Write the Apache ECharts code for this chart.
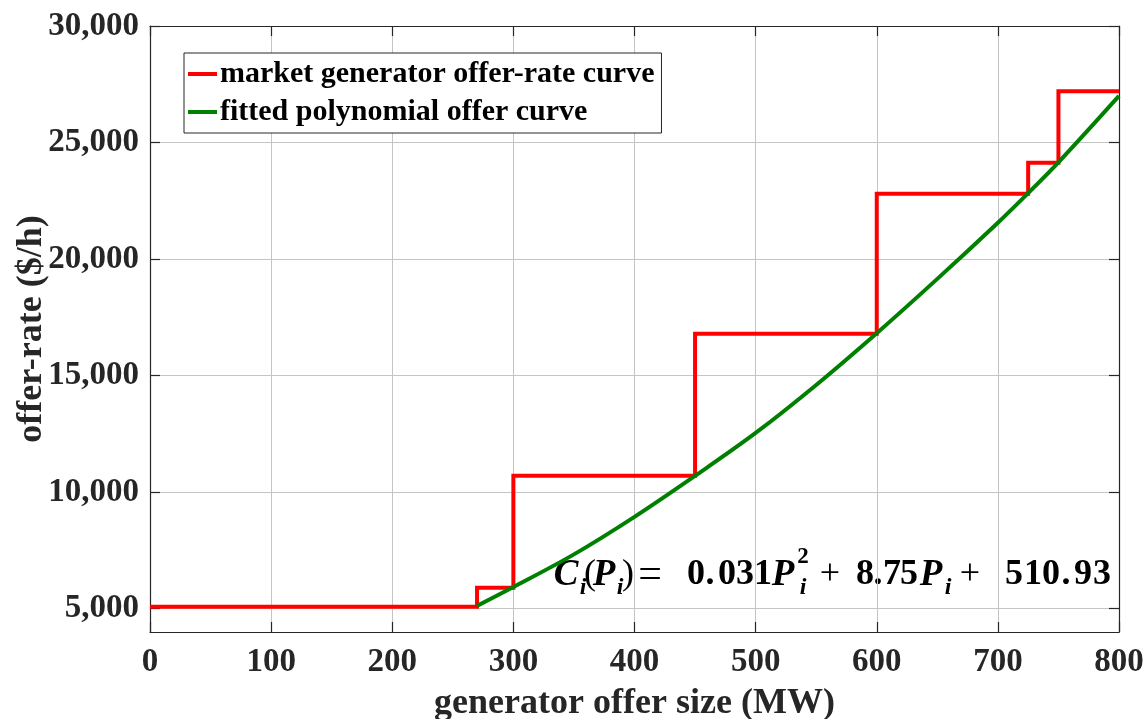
<!DOCTYPE html>
<html>
<head>
<meta charset="utf-8">
<title>Generator offer-rate curve</title>
<script src="https://cdn.jsdelivr.net/npm/echarts@6/dist/echarts.min.js"></script>
<style>
  html, body { margin: 0; padding: 0; background: #fff; }
  #chart { width: 1145px; height: 719px; }
</style>
</head>
<body>
<div id="chart"></div>
<script>
// Axis ticks
const xTicks = [0, 100, 200, 300, 400, 500, 600, 700, 800];
const yTicks = [5000, 10000, 15000, 20000, 25000, 30000];

// Market offer-rate steps: each value holds from its MW point to the next one
const stepMW = [0, 270, 300, 450, 600, 725, 750, 800];
const stepRate = [5080, 5900, 10700, 16800, 22800, 24130, 27200, 27200];

// Fitted polynomial offer curve, sampled points
const fitMW = [270, 300, 350, 400, 450, 500, 550, 600, 650, 700, 725, 750, 800];
const fitRate = [5120, 5930, 7330, 8940, 10700, 12540, 14600, 16820, 19150, 21560, 22830, 24150, 27000];

const seriesNames = ['market generator offer-rate curve', 'fitted polynomial offer curve'];

const SERIF = '"Liberation Serif", "Times New Roman", serif';
const AXIS_COLOR = '#262626';
const GRID_COLOR = '#c4c4c4';

const chart = echarts.init(document.getElementById('chart'), null, { renderer: 'canvas' });

const tickLabelStyle = {
  fontFamily: SERIF, fontWeight: 'bold', fontSize: 33, color: AXIS_COLOR
};

function boxAxis(extra) {
  return Object.assign({
    axisLine: { show: true, onZero: false, lineStyle: { color: AXIS_COLOR, width: 1.2 } },
    axisTick: { show: true, inside: true, length: 10, lineStyle: { color: AXIS_COLOR, width: 1.2 } },
    axisLabel: { show: false },
    splitLine: { show: false }
  }, extra);
}

// Fit equation, set glyph by glyph: [text, centre x, centre y, font]
const eqVar = 'bold italic 37px ' + SERIF;
const eqNum = 'bold 36px ' + SERIF;
const eqSub = 'bold italic 24px ' + SERIF;
const eqSup = 'bold 23px ' + SERIF;
const eqOp = 'normal 36px ' + SERIF;
const eqEq = 'normal 42px ' + SERIF;
const eqPieces = [
  ['C', 566, 575, eqVar],
  ['i', 583, 588, eqSub],
  ['(', 590, 575, eqOp],
  ['P', 604, 575, eqVar],
  ['i', 620, 588, eqSub],
  [')', 628, 575, eqOp],
  ['=', 650, 576, eqEq],
  ['0', 696, 575, eqNum],
  ['.', 710, 575, eqNum],
  ['0', 727, 575, eqNum],
  ['3', 745, 575, eqNum],
  ['1', 763, 575, eqNum],
  ['P', 783, 575, eqVar],
  ['2', 803, 557, eqSup],
  ['i', 803, 588, eqSub],
  ['+', 830, 575, eqOp],
  ['8', 865, 575, eqNum],
  ['.', 878, 575, eqNum],
  ['7', 892, 575, eqNum],
  ['5', 909, 575, eqNum],
  ['P', 931, 575, eqVar],
  ['i', 948, 588, eqSub],
  ['+', 970, 575, eqOp],
  ['5', 1014, 575, eqNum],
  ['1', 1033, 575, eqNum],
  ['0', 1051, 575, eqNum],
  ['.', 1066, 575, eqNum],
  ['9', 1083, 575, eqNum],
  ['3', 1102, 575, eqNum]
];

const option = {
  animation: false,
  backgroundColor: '#ffffff',
  grid: { left: 150, right: 26, top: 26, bottom: 87, containLabel: false, outerBoundsMode: 'none' },
  legend: {
    show: true,
    data: seriesNames,
    orient: 'vertical',
    left: 184,
    top: 53,
    icon: 'rect',
    itemWidth: 29,
    itemHeight: 4,
    itemGap: 2,
    padding: [3, 7, 3, 4],
    backgroundColor: '#ffffff',
    borderColor: AXIS_COLOR,
    borderWidth: 1,
    borderRadius: 0,
    selectedMode: false,
    textStyle: {
      fontFamily: SERIF, fontWeight: 'bold', fontSize: 30, color: '#000', lineHeight: 36, padding: [0, 0, 0, -2]
    }
  },
  xAxis: [
    {
      type: 'value',
      min: xTicks[0],
      max: xTicks[xTicks.length - 1],
      interval: 100,
      position: 'bottom',
      name: 'generator offer size (MW)',
      nameLocation: 'middle',
      nameGap: 54,
      nameMoveOverlap: false,
      nameTextStyle: { fontFamily: SERIF, fontWeight: 'bold', fontSize: 36, color: AXIS_COLOR },
      axisLine: { show: true, onZero: false, lineStyle: { color: AXIS_COLOR, width: 1.2 } },
      axisTick: { show: true, inside: true, length: 10, lineStyle: { color: AXIS_COLOR, width: 1.2 } },
      axisLabel: Object.assign({ margin: 14 }, tickLabelStyle),
      splitLine: { show: true, lineStyle: { color: GRID_COLOR, width: 1 } }
    },
    boxAxis({
      type: 'value',
      min: xTicks[0],
      max: xTicks[xTicks.length - 1],
      interval: 100,
      position: 'top'
    })
  ],
  yAxis: [
    {
      type: 'value',
      min: 4000,
      max: 30000,
      position: 'left',
      name: 'offer-rate ($/h)',
      nameLocation: 'middle',
      nameGap: 100,
      nameRotate: 90,
      nameMoveOverlap: false,
      nameTextStyle: { fontFamily: SERIF, fontWeight: 'bold', fontSize: 36, color: AXIS_COLOR },
      axisLine: { show: true, onZero: false, lineStyle: { color: AXIS_COLOR, width: 1.2 } },
      axisTick: { show: true, inside: true, length: 10, customValues: yTicks, lineStyle: { color: AXIS_COLOR, width: 1.2 } },
      axisLabel: Object.assign({
        margin: 11,
        customValues: yTicks,
        formatter: function (v) { return v.toLocaleString('en-US'); }
      }, tickLabelStyle),
      splitLine: { show: true, lineStyle: { color: GRID_COLOR, width: 1 } }
    },
    boxAxis({
      type: 'value',
      min: 4000,
      max: 30000,
      position: 'right',
      axisTick: { show: true, inside: true, length: 10, customValues: yTicks, lineStyle: { color: AXIS_COLOR, width: 1.2 } }
    })
  ],
  series: [
    {
      name: seriesNames[0],
      type: 'line',
      step: 'end',
      showSymbol: false,
      symbol: 'none',
      data: stepMW.map((x, i) => [x, stepRate[i]]),
      lineStyle: { color: '#ff0000', width: 4, join: 'miter' },
      itemStyle: { color: '#ff0000' },
      z: 2
    },
    {
      name: seriesNames[1],
      type: 'line',
      smooth: 0.35,
      showSymbol: false,
      symbol: 'none',
      data: fitMW.map((x, i) => [x, fitRate[i]]),
      lineStyle: { color: '#008000', width: 4 },
      itemStyle: { color: '#008000' },
      z: 3
    }
  ],
  graphic: [
    {
      type: 'group',
      z: 100,
      children: eqPieces.map(p => ({
        type: 'text',
        x: p[1],
        y: p[2],
        style: {
          text: p[0],
          font: p[3],
          fill: '#000',
          align: 'center',
          verticalAlign: 'middle'
        }
      }))
    }
  ]
};

chart.setOption(option);
</script>
</body>
</html>
